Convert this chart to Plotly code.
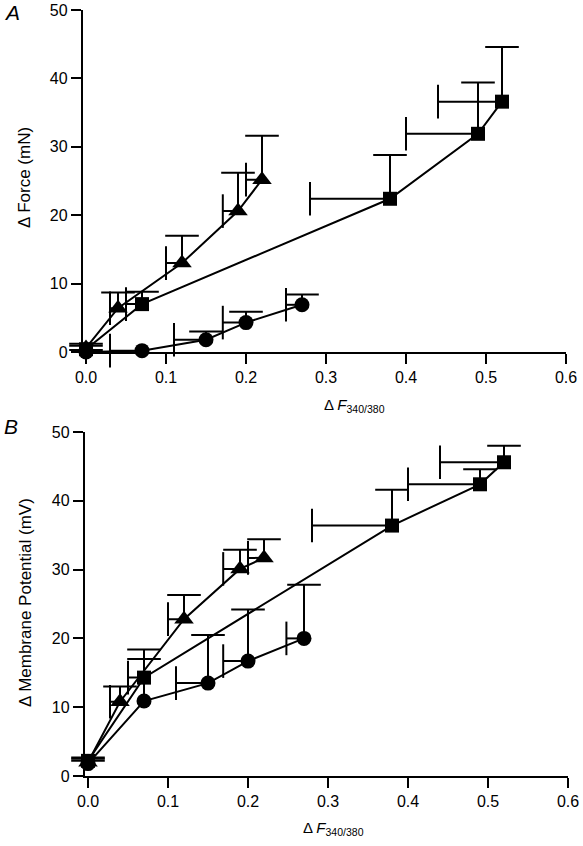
import plotly.graph_objects as go

# ---------------- Panel A: Δ Force (mN) vs Δ F340/380 ----------------
a_tri_x = [0.0, 0.04, 0.12, 0.19, 0.22]
a_tri_y = [0.6, 6.4, 13.0, 20.6, 25.2]
a_tri_yerr = [0.6, 2.3, 4.0, 5.6, 6.4]
a_tri_xerr = [0.0, 0.01, 0.02, 0.019, 0.02]

a_sq_x = [0.0, 0.07, 0.38, 0.49, 0.52]
a_sq_y = [0.4, 7.0, 22.4, 31.9, 36.6]
a_sq_yerr = [0.5, 1.8, 6.4, 7.5, 8.0]
a_sq_xerr = [0.0, 0.02, 0.10, 0.09, 0.08]

a_ci_x = [0.0, 0.07, 0.15, 0.20, 0.27]
a_ci_y = [0.0, 0.2, 1.8, 4.3, 6.9]
a_ci_yerr = [0.3, 0.0, 1.2, 1.6, 1.5]
a_ci_xerr = [0.0, 0.04, 0.04, 0.029, 0.02]

# ---------------- Panel B: Δ Membrane Potential (mV) ----------------
b_tri_x = [0.0, 0.04, 0.12, 0.19, 0.22]
b_tri_y = [2.0, 10.8, 22.8, 30.1, 31.7]
b_tri_yerr = [0.5, 2.2, 3.5, 2.8, 2.7]
b_tri_xerr = [0.0, 0.0125, 0.02, 0.021, 0.02]

b_sq_x = [0.0, 0.07, 0.38, 0.49, 0.52]
b_sq_y = [2.2, 14.3, 36.4, 42.4, 45.6]
b_sq_yerr = [0.5, 4.1, 5.2, 2.2, 2.4]
b_sq_xerr = [0.0, 0.02, 0.10, 0.09, 0.08]

b_ci_x = [0.0, 0.07, 0.15, 0.20, 0.27]
b_ci_y = [1.8, 10.9, 13.5, 16.7, 20.0]
b_ci_yerr = [0.4, 6.1, 7.0, 7.5, 7.8]
b_ci_xerr = [0.0, 0.0, 0.04, 0.031, 0.022]

x_ticks = [0.0, 0.1, 0.2, 0.3, 0.4, 0.5, 0.6]
y_ticks = [0, 10, 20, 30, 40, 50]

W, H = 583, 846
FONT = "Liberation Sans, Arial, Helvetica, sans-serif"


def px(x):
    return x / W


def py(y):
    return 1 - y / H


def add_series(fig, x, y, yerr, xerr, symbol, size, xa, ya):
    # stems of the error bars (caps drawn only at the far ends)
    fig.add_trace(go.Scatter(
        x=x, y=y, mode="markers", marker=dict(size=1, color="rgba(0,0,0,0)"),
        error_y=dict(type="data", symmetric=False, array=yerr,
                     arrayminus=[0] * len(yerr), color="black",
                     thickness=2, width=0),
        error_x=dict(type="data", symmetric=False, array=[0] * len(xerr),
                     arrayminus=xerr, color="black", thickness=2, width=0),
        xaxis=xa, yaxis=ya, showlegend=False, cliponaxis=False,
        hoverinfo="skip",
    ))
    top = [yy + e for yy, e in zip(y, yerr) if e > 0]
    top_x = [xx for xx, e in zip(x, yerr) if e > 0]
    fig.add_trace(go.Scatter(
        x=top_x, y=top, mode="markers",
        marker=dict(symbol="line-ew", size=24,
                    line=dict(color="black", width=2)),
        xaxis=xa, yaxis=ya, showlegend=False, cliponaxis=False,
        hoverinfo="skip",
    ))
    left = [xx - e for xx, e in zip(x, xerr) if e > 0]
    left_y = [yy for yy, e in zip(y, xerr) if e > 0]
    fig.add_trace(go.Scatter(
        x=left, y=left_y, mode="markers",
        marker=dict(symbol="line-ns", size=24,
                    line=dict(color="black", width=2)),
        xaxis=xa, yaxis=ya, showlegend=False, cliponaxis=False,
        hoverinfo="skip",
    ))
    fig.add_trace(go.Scatter(
        x=x, y=y, mode="lines+markers",
        line=dict(color="black", width=2),
        marker=dict(symbol=symbol, size=size, color="black"),
        xaxis=xa, yaxis=ya, showlegend=False, cliponaxis=False,
    ))


fig = go.Figure()
add_series(fig, a_sq_x, a_sq_y, a_sq_yerr, a_sq_xerr, "square", 14, "x", "y")
add_series(fig, a_ci_x, a_ci_y, a_ci_yerr, a_ci_xerr, "circle", 15, "x", "y")
add_series(fig, a_tri_x, a_tri_y, a_tri_yerr, a_tri_xerr, "triangle-up", 17, "x", "y")
add_series(fig, b_sq_x, b_sq_y, b_sq_yerr, b_sq_xerr, "square", 14, "x2", "y2")
add_series(fig, b_ci_x, b_ci_y, b_ci_yerr, b_ci_xerr, "circle", 15, "x2", "y2")
add_series(fig, b_tri_x, b_tri_y, b_tri_yerr, b_tri_xerr, "triangle-up", 17, "x2", "y2")

axis_common = dict(
    showline=True, linecolor="black", linewidth=2, showgrid=False,
    zeroline=False, ticks="outside", ticklen=10, tickwidth=2,
    tickcolor="black", tickfont=dict(family=FONT, size=16, color="black"),
    automargin=False,
)

fig.update_layout(
    width=W, height=H,
    margin=dict(l=0, r=0, t=0, b=0, autoexpand=False),
    paper_bgcolor="white", plot_bgcolor="white",
    font=dict(family=FONT, color="black"),
    xaxis=dict(domain=[px(82.8), px(566)], range=[-0.004, 0.6],
               tickvals=x_ticks, tickformat=".1f", anchor="y", **axis_common),
    yaxis=dict(domain=[py(352), py(10)], range=[0, 50],
               tickvals=y_ticks, anchor="x", **axis_common),
    xaxis2=dict(domain=[px(84.8), px(568)], range=[-0.004, 0.6],
                tickvals=x_ticks, tickformat=".1f", anchor="y2", **axis_common),
    yaxis2=dict(domain=[py(776), py(432)], range=[0, 50],
                tickvals=y_ticks, anchor="x2", **axis_common),
)

ann_font = dict(family=FONT, size=15, color="black")
ytitle_font = dict(family=FONT, size=17, color="black")
panel_font = dict(family=FONT, size=21, color="black")


def ann(x, y, text, font, angle=0, xanchor="center", yanchor="middle"):
    fig.add_annotation(x=px(x), y=py(y), xref="paper", yref="paper",
                       text=text, textangle=angle, showarrow=False,
                       xanchor=xanchor, yanchor=yanchor, font=font,
                       borderpad=0)


ann(3, 0, "<i>A</i>", panel_font, xanchor="left", yanchor="top")
ann(3, 414, "<i>B</i>", panel_font, xanchor="left", yanchor="top")
ann(25, 178, "Δ Force (mN)", ytitle_font, angle=-90)
ann(25, 603, "Δ Membrane Potential (mV)", ytitle_font, angle=-90)
ann(323, 405, "Δ <i>F</i><sub>340/380</sub>", ann_font, xanchor="left")
ann(302, 828, "Δ <i>F</i><sub>340/380</sub>", ann_font, xanchor="left")

# remove the browser's default 8px body margin so the figure fills the window
fig.write_html("out.html",
               config={"displayModeBar": False},
               post_script="document.body.style.margin='0';"
                           "document.body.style.overflow='hidden';")
